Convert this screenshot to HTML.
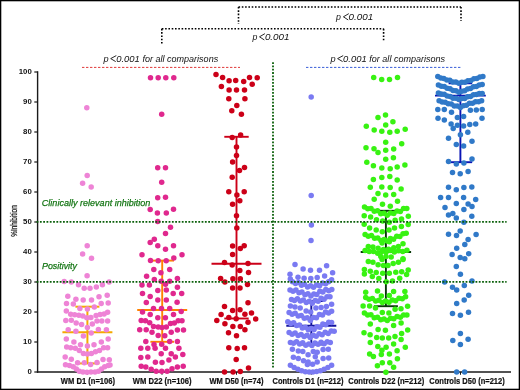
<!DOCTYPE html>
<html><head><meta charset="utf-8"><style>
html,body{margin:0;padding:0;background:#fff;}
svg{display:block;will-change:transform;}
text{font-family:"Liberation Sans",sans-serif;fill:#111;}
.it{font-style:italic;}
.bd{font-weight:bold;}
.xl{stroke:#111;stroke-width:0.2;}
</style></head><body>
<svg width="520" height="390" viewBox="0 0 520 390">
<rect x="0" y="0" width="520" height="390" fill="none" stroke="#000" stroke-width="2.6"/>
<line x1="238.5" y1="7" x2="461" y2="7" stroke="#000" stroke-width="1.6" stroke-dasharray="1.6 1.7"/>
<line x1="238.5" y1="7" x2="238.5" y2="24" stroke="#000" stroke-width="1.6" stroke-dasharray="1.6 1.7"/>
<line x1="461" y1="7" x2="461" y2="21" stroke="#000" stroke-width="1.6" stroke-dasharray="1.6 1.7"/>
<line x1="161.8" y1="28.8" x2="383.6" y2="28.8" stroke="#000" stroke-width="1.6" stroke-dasharray="1.6 1.7"/>
<line x1="161.8" y1="28.8" x2="161.8" y2="44" stroke="#000" stroke-width="1.6" stroke-dasharray="1.6 1.7"/>
<line x1="383.6" y1="28.8" x2="383.6" y2="41" stroke="#000" stroke-width="1.6" stroke-dasharray="1.6 1.7"/>
<text x="336.0" y="19.5" class="it" font-size="8.8">p</text>
<path d="M348.80 13.65 L343.40 16.80 L348.20 19.95" fill="none" stroke="#1e1e1e" stroke-width="0.95"/>
<text x="348.6" y="19.5" class="it" font-size="8.6" textLength="24.6" lengthAdjust="spacingAndGlyphs">0.001</text>
<text x="252.4" y="39.5" class="it" font-size="8.8">p</text>
<path d="M264.90 33.65 L259.50 36.80 L264.30 39.95" fill="none" stroke="#1e1e1e" stroke-width="0.95"/>
<text x="264.9" y="39.5" class="it" font-size="8.6" textLength="24.6" lengthAdjust="spacingAndGlyphs">0.001</text>
<text x="103.5" y="62.2" class="it" font-size="9.2">p</text>
<path d="M116.30 55.60 L110.70 58.60 L115.70 61.60" fill="none" stroke="#1e1e1e" stroke-width="0.95"/>
<text x="116.2" y="62.2" class="it" font-size="8.6" textLength="23.6" lengthAdjust="spacingAndGlyphs">0.001</text>
<text x="142.4" y="62.2" class="it" font-size="8.6" textLength="75.8" lengthAdjust="spacingAndGlyphs">for all comparisons</text>
<text x="330.4" y="62.2" class="it" font-size="9.2">p</text>
<path d="M343.20 55.60 L337.60 58.60 L342.60 61.60" fill="none" stroke="#1e1e1e" stroke-width="0.95"/>
<text x="343.1" y="62.2" class="it" font-size="8.6" textLength="23.6" lengthAdjust="spacingAndGlyphs">0.001</text>
<text x="369.3" y="62.2" class="it" font-size="8.6" textLength="75.8" lengthAdjust="spacingAndGlyphs">for all comparisons</text>
<line x1="82" y1="67.4" x2="240" y2="67.4" stroke="#e03a3a" stroke-width="1" stroke-dasharray="2.4 1.6"/>
<line x1="306" y1="67.4" x2="461.5" y2="67.4" stroke="#3a5fd8" stroke-width="1" stroke-dasharray="2.4 1.6"/>
<line x1="37.6" y1="71.2" x2="37.6" y2="372.7" stroke="#1a1a1a" stroke-width="1.4"/>
<line x1="36.9" y1="372" x2="511" y2="372" stroke="#1a1a1a" stroke-width="1.6"/>
<line x1="34.3" y1="372" x2="37.6" y2="372" stroke="#1a1a1a" stroke-width="1.2"/>
<text x="31.8" y="374.1" class="bd" font-size="7.8" text-anchor="end">0</text>
<line x1="34.3" y1="342" x2="37.6" y2="342" stroke="#1a1a1a" stroke-width="1.2"/>
<text x="31.8" y="344.1" class="bd" font-size="7.8" text-anchor="end">10</text>
<line x1="34.3" y1="312" x2="37.6" y2="312" stroke="#1a1a1a" stroke-width="1.2"/>
<text x="31.8" y="314.1" class="bd" font-size="7.8" text-anchor="end">20</text>
<line x1="34.3" y1="282" x2="37.6" y2="282" stroke="#1a1a1a" stroke-width="1.2"/>
<text x="31.8" y="284.1" class="bd" font-size="7.8" text-anchor="end">30</text>
<line x1="34.3" y1="252" x2="37.6" y2="252" stroke="#1a1a1a" stroke-width="1.2"/>
<text x="31.8" y="254.1" class="bd" font-size="7.8" text-anchor="end">40</text>
<line x1="34.3" y1="222" x2="37.6" y2="222" stroke="#1a1a1a" stroke-width="1.2"/>
<text x="31.8" y="224.1" class="bd" font-size="7.8" text-anchor="end">50</text>
<line x1="34.3" y1="192" x2="37.6" y2="192" stroke="#1a1a1a" stroke-width="1.2"/>
<text x="31.8" y="194.1" class="bd" font-size="7.8" text-anchor="end">60</text>
<line x1="34.3" y1="162" x2="37.6" y2="162" stroke="#1a1a1a" stroke-width="1.2"/>
<text x="31.8" y="164.1" class="bd" font-size="7.8" text-anchor="end">70</text>
<line x1="34.3" y1="132" x2="37.6" y2="132" stroke="#1a1a1a" stroke-width="1.2"/>
<text x="31.8" y="134.1" class="bd" font-size="7.8" text-anchor="end">80</text>
<line x1="34.3" y1="102" x2="37.6" y2="102" stroke="#1a1a1a" stroke-width="1.2"/>
<text x="31.8" y="104.1" class="bd" font-size="7.8" text-anchor="end">90</text>
<line x1="34.3" y1="72" x2="37.6" y2="72" stroke="#1a1a1a" stroke-width="1.2"/>
<text x="31.8" y="74.1" class="bd" font-size="7.8" text-anchor="end">100</text>
<line x1="87.4" y1="372" x2="87.4" y2="374.8" stroke="#1a1a1a" stroke-width="1"/>
<line x1="162" y1="372" x2="162" y2="374.8" stroke="#1a1a1a" stroke-width="1"/>
<line x1="236.5" y1="372" x2="236.5" y2="374.8" stroke="#1a1a1a" stroke-width="1"/>
<line x1="311.2" y1="372" x2="311.2" y2="374.8" stroke="#1a1a1a" stroke-width="1"/>
<line x1="386.2" y1="372" x2="386.2" y2="374.8" stroke="#1a1a1a" stroke-width="1"/>
<line x1="460.5" y1="372" x2="460.5" y2="374.8" stroke="#1a1a1a" stroke-width="1"/>
<text transform="translate(16.9,221) rotate(-90)" font-size="9.4" text-anchor="middle" textLength="31.4" lengthAdjust="spacingAndGlyphs" style="stroke:#111;stroke-width:0.25">%Inhibition</text>
<text x="60.8" y="384.0" class="bd xl" font-size="8.2" textLength="54.3" lengthAdjust="spacingAndGlyphs">WM D1 (n=106)</text>
<text x="132.7" y="384.0" class="bd xl" font-size="8.2" textLength="58.8" lengthAdjust="spacingAndGlyphs">WM D22 (n=106)</text>
<text x="209.5" y="384.0" class="bd xl" font-size="8.2" textLength="53.9" lengthAdjust="spacingAndGlyphs">WM D50 (n=74)</text>
<text x="272.5" y="384.0" class="bd xl" font-size="8.2" textLength="70.9" lengthAdjust="spacingAndGlyphs">Controls D1 (n=212)</text>
<text x="348.2" y="384.0" class="bd xl" font-size="8.2" textLength="76" lengthAdjust="spacingAndGlyphs">Controls D22 (n=212)</text>
<text x="429.3" y="384.0" class="bd xl" font-size="8.2" textLength="75.4" lengthAdjust="spacingAndGlyphs">Controls D50 (n=212)</text>
<g stroke="#f5a800" stroke-width="2" fill="none">
<line x1="87.4" y1="306.7" x2="87.4" y2="363.4"/>
<line x1="75.4" y1="306.7" x2="99.4" y2="306.7"/>
<line x1="75.4" y1="363.4" x2="99.4" y2="363.4"/>
<line x1="62.400000000000006" y1="332.2" x2="112.4" y2="332.2"/>
</g>
<g stroke="#ff8200" stroke-width="1.9" fill="none">
<line x1="162.2" y1="260.6" x2="162.2" y2="341.8"/>
<line x1="150.39999999999998" y1="260.6" x2="174.0" y2="260.6"/>
<line x1="150.39999999999998" y1="341.8" x2="174.0" y2="341.8"/>
<line x1="137.2" y1="310" x2="187.2" y2="310"/>
</g>
<g stroke="#cc0018" stroke-width="1.9" fill="none">
<line x1="236.5" y1="136.8" x2="236.5" y2="318.5"/>
<line x1="224.3" y1="136.8" x2="248.7" y2="136.8"/>
<line x1="224.3" y1="318.5" x2="248.7" y2="318.5"/>
<line x1="211.5" y1="263.8" x2="261.5" y2="263.8"/>
</g>
<g stroke="#12129c" stroke-width="1.9" fill="none">
<line x1="311.3" y1="301" x2="311.3" y2="344.5"/>
<line x1="299.3" y1="301" x2="323.3" y2="301"/>
<line x1="299.3" y1="344.5" x2="323.3" y2="344.5"/>
<line x1="286.3" y1="325.7" x2="336.3" y2="325.7"/>
</g>
<g stroke="#0a3a0a" stroke-width="1.9" fill="none">
<line x1="385.9" y1="210.8" x2="385.9" y2="306.2"/>
<line x1="373.9" y1="210.8" x2="397.9" y2="210.8"/>
<line x1="373.9" y1="306.2" x2="397.9" y2="306.2"/>
<line x1="360.7" y1="252" x2="411.09999999999997" y2="252"/>
</g>
<g stroke="#0a14b4" stroke-width="1.9" fill="none">
<line x1="460.4" y1="83.3" x2="460.4" y2="162.2"/>
<line x1="448.59999999999997" y1="83.3" x2="472.2" y2="83.3"/>
<line x1="448.59999999999997" y1="162.2" x2="472.2" y2="162.2"/>
<line x1="435.0" y1="95.6" x2="485.79999999999995" y2="95.6"/>
</g>
<g fill="#ee84d6">
<circle cx="86.8" cy="107.8" r="2.75"/>
<circle cx="87.2" cy="175.5" r="2.75"/>
<circle cx="82.6" cy="183.2" r="2.75"/>
<circle cx="91.2" cy="187.1" r="2.75"/>
<circle cx="87.2" cy="245.7" r="2.75"/>
<circle cx="82.6" cy="254" r="2.75"/>
<circle cx="91.5" cy="258.3" r="2.75"/>
<circle cx="87.1" cy="275.8" r="2.75"/>
<circle cx="64.2" cy="281.5" r="2.75"/>
<circle cx="71.3" cy="281.9" r="2.75"/>
<circle cx="78.5" cy="284.7" r="2.75"/>
<circle cx="84.2" cy="288.2" r="2.75"/>
<circle cx="90" cy="288.2" r="2.75"/>
<circle cx="96.3" cy="286.9" r="2.75"/>
<circle cx="102.4" cy="284.7" r="2.75"/>
<circle cx="109.1" cy="281.9" r="2.75"/>
<circle cx="67.8" cy="296.3" r="2.75"/>
<circle cx="75.9" cy="299.2" r="2.75"/>
<circle cx="83.2" cy="300.1" r="2.75"/>
<circle cx="91.5" cy="300.1" r="2.75"/>
<circle cx="99" cy="296.7" r="2.75"/>
<circle cx="107.2" cy="295.3" r="2.75"/>
<circle cx="66.5" cy="303.6" r="2.75"/>
<circle cx="73.3" cy="304" r="2.75"/>
<circle cx="101.2" cy="303.6" r="2.75"/>
<circle cx="108.2" cy="303" r="2.75"/>
<circle cx="79.9" cy="308.5" r="2.75"/>
<circle cx="87.4" cy="309" r="2.75"/>
<circle cx="94.3" cy="307.1" r="2.75"/>
<circle cx="66.3" cy="311" r="2.75"/>
<circle cx="107.6" cy="312.2" r="2.75"/>
<circle cx="70.7" cy="314.2" r="2.75"/>
<circle cx="74.7" cy="314.8" r="2.75"/>
<circle cx="78.8" cy="315.2" r="2.75"/>
<circle cx="82.8" cy="316" r="2.75"/>
<circle cx="86.8" cy="317.7" r="2.75"/>
<circle cx="90.9" cy="317.5" r="2.75"/>
<circle cx="96.1" cy="315.4" r="2.75"/>
<circle cx="100.1" cy="314.5" r="2.75"/>
<circle cx="104.1" cy="314" r="2.75"/>
<circle cx="65.8" cy="320.6" r="2.75"/>
<circle cx="71.3" cy="320.2" r="2.75"/>
<circle cx="76.2" cy="322.9" r="2.75"/>
<circle cx="81.6" cy="324.6" r="2.75"/>
<circle cx="87.4" cy="327.5" r="2.75"/>
<circle cx="92.3" cy="324" r="2.75"/>
<circle cx="97" cy="321.1" r="2.75"/>
<circle cx="101.8" cy="321.1" r="2.75"/>
<circle cx="107.6" cy="321.1" r="2.75"/>
<circle cx="68.2" cy="329.8" r="2.75"/>
<circle cx="75.9" cy="331.3" r="2.75"/>
<circle cx="98.4" cy="329.6" r="2.75"/>
<circle cx="106.4" cy="329.8" r="2.75"/>
<circle cx="83.4" cy="335.9" r="2.75"/>
<circle cx="91.2" cy="333" r="2.75"/>
<circle cx="66.3" cy="339" r="2.75"/>
<circle cx="73.9" cy="342.1" r="2.75"/>
<circle cx="80.5" cy="344.8" r="2.75"/>
<circle cx="87.4" cy="346" r="2.75"/>
<circle cx="94" cy="344.8" r="2.75"/>
<circle cx="101.3" cy="341.9" r="2.75"/>
<circle cx="108.2" cy="339" r="2.75"/>
<circle cx="66.7" cy="347.1" r="2.75"/>
<circle cx="70.7" cy="347.7" r="2.75"/>
<circle cx="75.3" cy="348.3" r="2.75"/>
<circle cx="79.3" cy="350.6" r="2.75"/>
<circle cx="83.4" cy="353.5" r="2.75"/>
<circle cx="87.4" cy="354" r="2.75"/>
<circle cx="91.4" cy="353.5" r="2.75"/>
<circle cx="95.5" cy="351.7" r="2.75"/>
<circle cx="99.5" cy="350.6" r="2.75"/>
<circle cx="103.6" cy="347.7" r="2.75"/>
<circle cx="107.6" cy="347.7" r="2.75"/>
<circle cx="65.2" cy="356.9" r="2.75"/>
<circle cx="71.3" cy="359.2" r="2.75"/>
<circle cx="77.6" cy="362.7" r="2.75"/>
<circle cx="84.3" cy="362.7" r="2.75"/>
<circle cx="90.6" cy="364.4" r="2.75"/>
<circle cx="97" cy="362.4" r="2.75"/>
<circle cx="103" cy="359.5" r="2.75"/>
<circle cx="109.3" cy="359.8" r="2.75"/>
<circle cx="65.5" cy="364.8" r="2.75"/>
<circle cx="69.5" cy="365.5" r="2.75"/>
<circle cx="73.2" cy="366.8" r="2.75"/>
<circle cx="76.3" cy="369" r="2.75"/>
<circle cx="79.3" cy="371.2" r="2.75"/>
<circle cx="83" cy="372" r="2.75"/>
<circle cx="87" cy="372.2" r="2.75"/>
<circle cx="91" cy="372" r="2.75"/>
<circle cx="95" cy="372" r="2.75"/>
<circle cx="98.5" cy="371.2" r="2.75"/>
<circle cx="101.5" cy="369" r="2.75"/>
<circle cx="104.7" cy="366.8" r="2.75"/>
<circle cx="108.2" cy="365.5" r="2.75"/>
<circle cx="110" cy="365" r="2.75"/>
</g>
<g fill="#e0288e">
<circle cx="150.5" cy="77.7" r="2.75"/>
<circle cx="158.2" cy="77.7" r="2.75"/>
<circle cx="165.8" cy="77.7" r="2.75"/>
<circle cx="173.8" cy="77.7" r="2.75"/>
<circle cx="161.7" cy="114.2" r="2.75"/>
<circle cx="157.7" cy="167.7" r="2.75"/>
<circle cx="165.5" cy="167.7" r="2.75"/>
<circle cx="161.7" cy="182.3" r="2.75"/>
<circle cx="157.7" cy="197.8" r="2.75"/>
<circle cx="165.5" cy="197.3" r="2.75"/>
<circle cx="150.2" cy="209.6" r="2.75"/>
<circle cx="157.4" cy="213" r="2.75"/>
<circle cx="166.3" cy="213" r="2.75"/>
<circle cx="173.5" cy="209.3" r="2.75"/>
<circle cx="157.7" cy="221.6" r="2.75"/>
<circle cx="170.5" cy="227.3" r="2.75"/>
<circle cx="165.5" cy="233.5" r="2.75"/>
<circle cx="154.3" cy="239.3" r="2.75"/>
<circle cx="150.2" cy="242.4" r="2.75"/>
<circle cx="157.8" cy="245.8" r="2.75"/>
<circle cx="173.5" cy="245.8" r="2.75"/>
<circle cx="165.5" cy="249.3" r="2.75"/>
<circle cx="142" cy="254.7" r="2.75"/>
<circle cx="182" cy="254.7" r="2.75"/>
<circle cx="173.8" cy="258.1" r="2.75"/>
<circle cx="150.5" cy="260.4" r="2.75"/>
<circle cx="158.2" cy="260.8" r="2.75"/>
<circle cx="166.2" cy="260.8" r="2.75"/>
<circle cx="153.8" cy="269.6" r="2.75"/>
<circle cx="169.7" cy="269.6" r="2.75"/>
<circle cx="160.9" cy="272.7" r="2.75"/>
<circle cx="146.6" cy="276.2" r="2.75"/>
<circle cx="177.4" cy="278.5" r="2.75"/>
<circle cx="154.3" cy="279.6" r="2.75"/>
<circle cx="161.2" cy="281.2" r="2.75"/>
<circle cx="169.7" cy="281.2" r="2.75"/>
<circle cx="142" cy="285" r="2.75"/>
<circle cx="149.4" cy="285" r="2.75"/>
<circle cx="165.5" cy="284.2" r="2.75"/>
<circle cx="177.4" cy="287.3" r="2.75"/>
<circle cx="157.8" cy="290.4" r="2.75"/>
<circle cx="166.3" cy="290.1" r="2.75"/>
<circle cx="142.5" cy="293.4" r="2.75"/>
<circle cx="173.2" cy="293.4" r="2.75"/>
<circle cx="181.7" cy="293.4" r="2.75"/>
<circle cx="150.2" cy="296.5" r="2.75"/>
<circle cx="157.8" cy="300" r="2.75"/>
<circle cx="166.3" cy="300" r="2.75"/>
<circle cx="146.3" cy="302.6" r="2.75"/>
<circle cx="177.1" cy="302.3" r="2.75"/>
<circle cx="153.5" cy="308.5" r="2.75"/>
<circle cx="161.5" cy="308.5" r="2.75"/>
<circle cx="169.7" cy="308.5" r="2.75"/>
<circle cx="142.5" cy="312" r="2.75"/>
<circle cx="181.2" cy="311.5" r="2.75"/>
<circle cx="150.2" cy="314.6" r="2.75"/>
<circle cx="173.5" cy="314.6" r="2.75"/>
<circle cx="157.8" cy="317.7" r="2.75"/>
<circle cx="165.4" cy="317.7" r="2.75"/>
<circle cx="141.2" cy="320.5" r="2.75"/>
<circle cx="145.4" cy="320.8" r="2.75"/>
<circle cx="149.7" cy="322.8" r="2.75"/>
<circle cx="153.5" cy="326.5" r="2.75"/>
<circle cx="158.2" cy="326.9" r="2.75"/>
<circle cx="162" cy="327.4" r="2.75"/>
<circle cx="166.3" cy="326.9" r="2.75"/>
<circle cx="170.5" cy="323.5" r="2.75"/>
<circle cx="174.3" cy="323.1" r="2.75"/>
<circle cx="178.2" cy="320.8" r="2.75"/>
<circle cx="182" cy="320.8" r="2.75"/>
<circle cx="139.7" cy="329.7" r="2.75"/>
<circle cx="146.2" cy="329.7" r="2.75"/>
<circle cx="152" cy="332.3" r="2.75"/>
<circle cx="158.2" cy="335.5" r="2.75"/>
<circle cx="164.8" cy="335.8" r="2.75"/>
<circle cx="171.2" cy="332.3" r="2.75"/>
<circle cx="177.4" cy="330" r="2.75"/>
<circle cx="183.5" cy="330" r="2.75"/>
<circle cx="145.8" cy="341.5" r="2.75"/>
<circle cx="154" cy="344.6" r="2.75"/>
<circle cx="161.7" cy="344.2" r="2.75"/>
<circle cx="169.7" cy="341.5" r="2.75"/>
<circle cx="177.4" cy="341.5" r="2.75"/>
<circle cx="140.8" cy="348.2" r="2.75"/>
<circle cx="147.8" cy="348.2" r="2.75"/>
<circle cx="155.1" cy="348.2" r="2.75"/>
<circle cx="165.5" cy="348.2" r="2.75"/>
<circle cx="178.9" cy="348.2" r="2.75"/>
<circle cx="140.8" cy="357.4" r="2.75"/>
<circle cx="147.8" cy="356.9" r="2.75"/>
<circle cx="161.2" cy="353.8" r="2.75"/>
<circle cx="171.2" cy="353.8" r="2.75"/>
<circle cx="175.4" cy="356.9" r="2.75"/>
<circle cx="182.8" cy="354.6" r="2.75"/>
<circle cx="155.4" cy="362.3" r="2.75"/>
<circle cx="162" cy="362.6" r="2.75"/>
<circle cx="168.9" cy="360" r="2.75"/>
<circle cx="141.2" cy="366.2" r="2.75"/>
<circle cx="145.8" cy="366.9" r="2.75"/>
<circle cx="151.2" cy="369.2" r="2.75"/>
<circle cx="156.2" cy="371.2" r="2.75"/>
<circle cx="161.7" cy="371.2" r="2.75"/>
<circle cx="167.1" cy="371.2" r="2.75"/>
<circle cx="172" cy="368.8" r="2.75"/>
<circle cx="177.4" cy="366.9" r="2.75"/>
<circle cx="183.2" cy="366.2" r="2.75"/>
</g>
<g fill="#cc0018">
<circle cx="216" cy="74.6" r="2.75"/>
<circle cx="222.6" cy="77.4" r="2.75"/>
<circle cx="229.1" cy="80.8" r="2.75"/>
<circle cx="235.7" cy="80.5" r="2.75"/>
<circle cx="243.7" cy="81.5" r="2.75"/>
<circle cx="249.5" cy="77.4" r="2.75"/>
<circle cx="257.2" cy="77.7" r="2.75"/>
<circle cx="252.2" cy="84.2" r="2.75"/>
<circle cx="221.4" cy="86.6" r="2.75"/>
<circle cx="229.1" cy="90" r="2.75"/>
<circle cx="236.5" cy="90" r="2.75"/>
<circle cx="244.5" cy="90" r="2.75"/>
<circle cx="228.8" cy="98.8" r="2.75"/>
<circle cx="244.9" cy="98.8" r="2.75"/>
<circle cx="236.8" cy="105.4" r="2.75"/>
<circle cx="231.8" cy="110.8" r="2.75"/>
<circle cx="241.4" cy="114.2" r="2.75"/>
<circle cx="232.2" cy="137.6" r="2.75"/>
<circle cx="240.6" cy="135" r="2.75"/>
<circle cx="236.5" cy="147" r="2.75"/>
<circle cx="236.5" cy="155.5" r="2.75"/>
<circle cx="232.6" cy="161.9" r="2.75"/>
<circle cx="244.5" cy="167.6" r="2.75"/>
<circle cx="239.5" cy="170.4" r="2.75"/>
<circle cx="232.2" cy="177.3" r="2.75"/>
<circle cx="228.8" cy="191.8" r="2.75"/>
<circle cx="236.9" cy="194.9" r="2.75"/>
<circle cx="244.2" cy="191.8" r="2.75"/>
<circle cx="239.8" cy="200.8" r="2.75"/>
<circle cx="232.6" cy="204.2" r="2.75"/>
<circle cx="236.5" cy="215.8" r="2.75"/>
<circle cx="236.8" cy="228" r="2.75"/>
<circle cx="232.6" cy="246.1" r="2.75"/>
<circle cx="244.2" cy="245.8" r="2.75"/>
<circle cx="240.3" cy="248.5" r="2.75"/>
<circle cx="232.6" cy="254.5" r="2.75"/>
<circle cx="224.5" cy="262.4" r="2.75"/>
<circle cx="232.2" cy="265" r="2.75"/>
<circle cx="248" cy="263.5" r="2.75"/>
<circle cx="239.8" cy="270.4" r="2.75"/>
<circle cx="248.5" cy="272.4" r="2.75"/>
<circle cx="220.6" cy="278.5" r="2.75"/>
<circle cx="224.9" cy="281.9" r="2.75"/>
<circle cx="232.9" cy="278.8" r="2.75"/>
<circle cx="240.3" cy="278.8" r="2.75"/>
<circle cx="247.5" cy="284.5" r="2.75"/>
<circle cx="232.6" cy="288.1" r="2.75"/>
<circle cx="240" cy="288.1" r="2.75"/>
<circle cx="248" cy="302.8" r="2.75"/>
<circle cx="224.5" cy="306.6" r="2.75"/>
<circle cx="232.6" cy="310.5" r="2.75"/>
<circle cx="240" cy="309.7" r="2.75"/>
<circle cx="221.1" cy="314.6" r="2.75"/>
<circle cx="228.8" cy="317.4" r="2.75"/>
<circle cx="236.2" cy="318.8" r="2.75"/>
<circle cx="244.9" cy="314.3" r="2.75"/>
<circle cx="251.5" cy="313.1" r="2.75"/>
<circle cx="216.8" cy="320.5" r="2.75"/>
<circle cx="224.9" cy="323.8" r="2.75"/>
<circle cx="248" cy="322.3" r="2.75"/>
<circle cx="255.7" cy="318.9" r="2.75"/>
<circle cx="232.9" cy="326.6" r="2.75"/>
<circle cx="240.3" cy="326.6" r="2.75"/>
<circle cx="244.9" cy="329.7" r="2.75"/>
<circle cx="228.5" cy="332.8" r="2.75"/>
<circle cx="236.5" cy="335.8" r="2.75"/>
<circle cx="228.8" cy="347.7" r="2.75"/>
<circle cx="237.2" cy="348.5" r="2.75"/>
<circle cx="244.5" cy="347.7" r="2.75"/>
<circle cx="236.2" cy="359.6" r="2.75"/>
<circle cx="248.5" cy="368.1" r="2.75"/>
<circle cx="224.5" cy="371.9" r="2.75"/>
<circle cx="233.1" cy="371.9" r="2.75"/>
<circle cx="240.3" cy="371.6" r="2.75"/>
</g>
<g fill="#7a7af2">
<circle cx="311.2" cy="97" r="2.75"/>
<circle cx="311.2" cy="195.5" r="2.75"/>
<circle cx="311.4" cy="224.9" r="2.75"/>
<circle cx="311" cy="240.6" r="2.75"/>
<circle cx="295" cy="264.4" r="2.75"/>
<circle cx="326.6" cy="265.8" r="2.75"/>
<circle cx="303.1" cy="269.1" r="2.75"/>
<circle cx="310.5" cy="270.3" r="2.75"/>
<circle cx="319.5" cy="270.2" r="2.75"/>
<circle cx="290" cy="274.3" r="2.75"/>
<circle cx="332.6" cy="272.7" r="2.75"/>
<circle cx="298" cy="277.3" r="2.75"/>
<circle cx="304.1" cy="278.3" r="2.75"/>
<circle cx="310.8" cy="278.6" r="2.75"/>
<circle cx="317.2" cy="277.6" r="2.75"/>
<circle cx="324.6" cy="276.1" r="2.75"/>
<circle cx="290.3" cy="279" r="2.75"/>
<circle cx="331.6" cy="279.8" r="2.75"/>
<circle cx="292.5" cy="281.8" r="2.75"/>
<circle cx="295.51" cy="283.45" r="2.75"/>
<circle cx="298.52" cy="282.4" r="2.75"/>
<circle cx="301.52" cy="285.17" r="2.75"/>
<circle cx="304.53" cy="284.34" r="2.75"/>
<circle cx="307.54" cy="286.98" r="2.75"/>
<circle cx="310.55" cy="285.63" r="2.75"/>
<circle cx="313.56" cy="287.24" r="2.75"/>
<circle cx="316.57" cy="284.97" r="2.75"/>
<circle cx="319.58" cy="285.75" r="2.75"/>
<circle cx="322.58" cy="283.01" r="2.75"/>
<circle cx="325.59" cy="283.83" r="2.75"/>
<circle cx="328.6" cy="281.8" r="2.75"/>
<circle cx="290.0" cy="289.9" r="2.75"/>
<circle cx="292.99" cy="291.28" r="2.75"/>
<circle cx="295.97" cy="290.07" r="2.75"/>
<circle cx="298.96" cy="292.72" r="2.75"/>
<circle cx="301.94" cy="291.89" r="2.75"/>
<circle cx="304.93" cy="294.77" r="2.75"/>
<circle cx="307.91" cy="293.69" r="2.75"/>
<circle cx="310.9" cy="295.94" r="2.75"/>
<circle cx="313.89" cy="293.9" r="2.75"/>
<circle cx="316.87" cy="294.62" r="2.75"/>
<circle cx="319.86" cy="291.18" r="2.75"/>
<circle cx="322.84" cy="292.07" r="2.75"/>
<circle cx="325.83" cy="289.4" r="2.75"/>
<circle cx="328.81" cy="290.74" r="2.75"/>
<circle cx="331.8" cy="289.5" r="2.75"/>
<circle cx="291.5" cy="299.4" r="2.75"/>
<circle cx="294.46" cy="300.4" r="2.75"/>
<circle cx="297.42" cy="298.7" r="2.75"/>
<circle cx="300.38" cy="301.08" r="2.75"/>
<circle cx="303.35" cy="299.94" r="2.75"/>
<circle cx="306.31" cy="302.57" r="2.75"/>
<circle cx="309.27" cy="301.26" r="2.75"/>
<circle cx="312.23" cy="303.22" r="2.75"/>
<circle cx="315.19" cy="300.4" r="2.75"/>
<circle cx="318.15" cy="301.16" r="2.75"/>
<circle cx="321.12" cy="298.3" r="2.75"/>
<circle cx="324.08" cy="299.2" r="2.75"/>
<circle cx="327.04" cy="296.65" r="2.75"/>
<circle cx="330.0" cy="296.8" r="2.75"/>
<circle cx="290.4" cy="306.1" r="2.75"/>
<circle cx="295" cy="307" r="2.75"/>
<circle cx="300.2" cy="308.1" r="2.75"/>
<circle cx="306.1" cy="311" r="2.75"/>
<circle cx="310.7" cy="312" r="2.75"/>
<circle cx="315.9" cy="308.1" r="2.75"/>
<circle cx="321.1" cy="307.4" r="2.75"/>
<circle cx="326.4" cy="306.5" r="2.75"/>
<circle cx="331.6" cy="304.2" r="2.75"/>
<circle cx="289.1" cy="312.6" r="2.75"/>
<circle cx="292.14" cy="314.22" r="2.75"/>
<circle cx="295.17" cy="313.16" r="2.75"/>
<circle cx="298.21" cy="316.07" r="2.75"/>
<circle cx="301.24" cy="315.39" r="2.75"/>
<circle cx="304.28" cy="318.34" r="2.75"/>
<circle cx="307.31" cy="317.66" r="2.75"/>
<circle cx="310.35" cy="320.57" r="2.75"/>
<circle cx="313.39" cy="317.56" r="2.75"/>
<circle cx="316.42" cy="317.84" r="2.75"/>
<circle cx="319.46" cy="314.52" r="2.75"/>
<circle cx="322.49" cy="314.97" r="2.75"/>
<circle cx="325.53" cy="312.03" r="2.75"/>
<circle cx="328.56" cy="312.96" r="2.75"/>
<circle cx="331.6" cy="311.3" r="2.75"/>
<circle cx="287.8" cy="321.8" r="2.75"/>
<circle cx="290.72" cy="323.53" r="2.75"/>
<circle cx="293.64" cy="322.68" r="2.75"/>
<circle cx="296.56" cy="325.6" r="2.75"/>
<circle cx="299.48" cy="324.95" r="2.75"/>
<circle cx="302.4" cy="327.92" r="2.75"/>
<circle cx="305.32" cy="327.15" r="2.75"/>
<circle cx="308.24" cy="329.79" r="2.75"/>
<circle cx="311.16" cy="328.57" r="2.75"/>
<circle cx="314.08" cy="329.51" r="2.75"/>
<circle cx="317.0" cy="326.86" r="2.75"/>
<circle cx="319.92" cy="327.24" r="2.75"/>
<circle cx="322.84" cy="323.98" r="2.75"/>
<circle cx="325.76" cy="324.82" r="2.75"/>
<circle cx="328.68" cy="322.31" r="2.75"/>
<circle cx="331.6" cy="322.5" r="2.75"/>
<circle cx="289.1" cy="332.6" r="2.75"/>
<circle cx="292.11" cy="334.16" r="2.75"/>
<circle cx="295.11" cy="333.03" r="2.75"/>
<circle cx="298.12" cy="335.58" r="2.75"/>
<circle cx="301.13" cy="334.42" r="2.75"/>
<circle cx="304.13" cy="336.62" r="2.75"/>
<circle cx="307.14" cy="335.28" r="2.75"/>
<circle cx="310.15" cy="337.6" r="2.75"/>
<circle cx="313.15" cy="335.3" r="2.75"/>
<circle cx="316.16" cy="336.36" r="2.75"/>
<circle cx="319.17" cy="333.81" r="2.75"/>
<circle cx="322.17" cy="334.86" r="2.75"/>
<circle cx="325.18" cy="332.32" r="2.75"/>
<circle cx="328.19" cy="333.4" r="2.75"/>
<circle cx="331.19" cy="331.0" r="2.75"/>
<circle cx="334.2" cy="331.3" r="2.75"/>
<circle cx="290.4" cy="342.4" r="2.75"/>
<circle cx="293.47" cy="343.3" r="2.75"/>
<circle cx="296.54" cy="341.71" r="2.75"/>
<circle cx="299.61" cy="343.92" r="2.75"/>
<circle cx="302.68" cy="342.81" r="2.75"/>
<circle cx="305.75" cy="345.33" r="2.75"/>
<circle cx="308.82" cy="343.88" r="2.75"/>
<circle cx="311.88" cy="345.6" r="2.75"/>
<circle cx="314.95" cy="343.04" r="2.75"/>
<circle cx="318.02" cy="344.36" r="2.75"/>
<circle cx="321.09" cy="342.2" r="2.75"/>
<circle cx="324.16" cy="343.83" r="2.75"/>
<circle cx="327.23" cy="341.81" r="2.75"/>
<circle cx="330.3" cy="342.4" r="2.75"/>
<circle cx="292.4" cy="349.3" r="2.75"/>
<circle cx="298.3" cy="350.9" r="2.75"/>
<circle cx="302.8" cy="351.6" r="2.75"/>
<circle cx="308.1" cy="354.8" r="2.75"/>
<circle cx="313.3" cy="351.6" r="2.75"/>
<circle cx="317.2" cy="352.2" r="2.75"/>
<circle cx="323.1" cy="349.6" r="2.75"/>
<circle cx="328.3" cy="349.3" r="2.75"/>
<circle cx="315.3" cy="356.8" r="2.75"/>
<circle cx="293.4" cy="357.2" r="2.75"/>
<circle cx="298.3" cy="358.5" r="2.75"/>
<circle cx="303.5" cy="360.7" r="2.75"/>
<circle cx="308.1" cy="362" r="2.75"/>
<circle cx="312.6" cy="364.2" r="2.75"/>
<circle cx="317.2" cy="362" r="2.75"/>
<circle cx="323.1" cy="358.5" r="2.75"/>
<circle cx="328.7" cy="358.1" r="2.75"/>
<circle cx="307.4" cy="364.6" r="2.75"/>
<circle cx="290.4" cy="365.3" r="2.75"/>
<circle cx="294.15" cy="367.42" r="2.75"/>
<circle cx="297.89" cy="369.35" r="2.75"/>
<circle cx="301.64" cy="370.85" r="2.75"/>
<circle cx="305.38" cy="371.77" r="2.75"/>
<circle cx="309.13" cy="372.01" r="2.75"/>
<circle cx="312.87" cy="371.97" r="2.75"/>
<circle cx="316.62" cy="371.62" r="2.75"/>
<circle cx="320.36" cy="370.68" r="2.75"/>
<circle cx="324.11" cy="369.17" r="2.75"/>
<circle cx="327.85" cy="367.42" r="2.75"/>
<circle cx="331.6" cy="365.3" r="2.75"/>
</g>
<g fill="#38f212">
<circle cx="373.7" cy="77.4" r="2.75"/>
<circle cx="381.7" cy="79.5" r="2.75"/>
<circle cx="389.5" cy="79.5" r="2.75"/>
<circle cx="397.5" cy="77.4" r="2.75"/>
<circle cx="378" cy="117.4" r="2.75"/>
<circle cx="385.5" cy="115.1" r="2.75"/>
<circle cx="392.9" cy="121.8" r="2.75"/>
<circle cx="385.7" cy="124.9" r="2.75"/>
<circle cx="366.3" cy="126.3" r="2.75"/>
<circle cx="374.2" cy="130" r="2.75"/>
<circle cx="381.8" cy="131.2" r="2.75"/>
<circle cx="389.8" cy="132.3" r="2.75"/>
<circle cx="397.2" cy="131.2" r="2.75"/>
<circle cx="405.2" cy="129.2" r="2.75"/>
<circle cx="385.7" cy="142.3" r="2.75"/>
<circle cx="401.7" cy="143.8" r="2.75"/>
<circle cx="366" cy="147.7" r="2.75"/>
<circle cx="374" cy="148.8" r="2.75"/>
<circle cx="385.7" cy="150.3" r="2.75"/>
<circle cx="393.7" cy="148.9" r="2.75"/>
<circle cx="378" cy="152.6" r="2.75"/>
<circle cx="385.7" cy="159.2" r="2.75"/>
<circle cx="393.4" cy="157.7" r="2.75"/>
<circle cx="366.8" cy="162.3" r="2.75"/>
<circle cx="373.4" cy="165.8" r="2.75"/>
<circle cx="381.8" cy="168" r="2.75"/>
<circle cx="390.2" cy="168.8" r="2.75"/>
<circle cx="397.2" cy="166.9" r="2.75"/>
<circle cx="404.9" cy="165.1" r="2.75"/>
<circle cx="373.4" cy="179.5" r="2.75"/>
<circle cx="381.8" cy="177.4" r="2.75"/>
<circle cx="389.8" cy="176.5" r="2.75"/>
<circle cx="397.2" cy="180" r="2.75"/>
<circle cx="370.3" cy="187.2" r="2.75"/>
<circle cx="381.8" cy="186.9" r="2.75"/>
<circle cx="390.2" cy="187.4" r="2.75"/>
<circle cx="401.1" cy="188.9" r="2.75"/>
<circle cx="378" cy="193.4" r="2.75"/>
<circle cx="385.7" cy="195.1" r="2.75"/>
<circle cx="393.7" cy="194.6" r="2.75"/>
<circle cx="374.2" cy="199.2" r="2.75"/>
<circle cx="397.5" cy="201.2" r="2.75"/>
<circle cx="382.5" cy="204.3" r="2.75"/>
<circle cx="390.3" cy="206.2" r="2.75"/>
<circle cx="364.5" cy="206.9" r="2.75"/>
<circle cx="367.75" cy="208.83" r="2.75"/>
<circle cx="371.01" cy="208.45" r="2.75"/>
<circle cx="374.26" cy="211.28" r="2.75"/>
<circle cx="377.52" cy="210.74" r="2.75"/>
<circle cx="380.77" cy="213.67" r="2.75"/>
<circle cx="384.02" cy="213.23" r="2.75"/>
<circle cx="387.28" cy="215.3" r="2.75"/>
<circle cx="390.53" cy="213.01" r="2.75"/>
<circle cx="393.78" cy="213.56" r="2.75"/>
<circle cx="397.04" cy="210.9" r="2.75"/>
<circle cx="400.29" cy="211.4" r="2.75"/>
<circle cx="403.55" cy="208.46" r="2.75"/>
<circle cx="406.8" cy="208.5" r="2.75"/>
<circle cx="364.2" cy="215.8" r="2.75"/>
<circle cx="370.6" cy="216.9" r="2.75"/>
<circle cx="376.5" cy="219.8" r="2.75"/>
<circle cx="382.7" cy="220.9" r="2.75"/>
<circle cx="389.3" cy="222.2" r="2.75"/>
<circle cx="395.1" cy="220.2" r="2.75"/>
<circle cx="401.5" cy="219" r="2.75"/>
<circle cx="408.3" cy="216.2" r="2.75"/>
<circle cx="364.2" cy="224.2" r="2.75"/>
<circle cx="369.6" cy="228.1" r="2.75"/>
<circle cx="376.2" cy="230" r="2.75"/>
<circle cx="382.3" cy="231.7" r="2.75"/>
<circle cx="389" cy="230" r="2.75"/>
<circle cx="394.5" cy="228.1" r="2.75"/>
<circle cx="401.4" cy="226.5" r="2.75"/>
<circle cx="408.2" cy="224.4" r="2.75"/>
<circle cx="365.1" cy="234.6" r="2.75"/>
<circle cx="368.26" cy="236.19" r="2.75"/>
<circle cx="371.42" cy="235.53" r="2.75"/>
<circle cx="374.58" cy="238.35" r="2.75"/>
<circle cx="377.75" cy="237.91" r="2.75"/>
<circle cx="380.91" cy="240.61" r="2.75"/>
<circle cx="384.07" cy="239.44" r="2.75"/>
<circle cx="387.23" cy="240.99" r="2.75"/>
<circle cx="390.39" cy="238.6" r="2.75"/>
<circle cx="393.55" cy="239.22" r="2.75"/>
<circle cx="396.72" cy="236.29" r="2.75"/>
<circle cx="399.88" cy="236.44" r="2.75"/>
<circle cx="403.04" cy="233.78" r="2.75"/>
<circle cx="406.2" cy="233.3" r="2.75"/>
<circle cx="382.1" cy="243.1" r="2.75"/>
<circle cx="389.3" cy="241.8" r="2.75"/>
<circle cx="403" cy="243.8" r="2.75"/>
<circle cx="368.3" cy="246.4" r="2.75"/>
<circle cx="372.9" cy="247" r="2.75"/>
<circle cx="378.1" cy="248.3" r="2.75"/>
<circle cx="383.4" cy="249.6" r="2.75"/>
<circle cx="388.6" cy="249.2" r="2.75"/>
<circle cx="393.8" cy="247.7" r="2.75"/>
<circle cx="398.4" cy="246.4" r="2.75"/>
<circle cx="365.1" cy="250.6" r="2.75"/>
<circle cx="369.28" cy="251.62" r="2.75"/>
<circle cx="373.46" cy="251.45" r="2.75"/>
<circle cx="377.64" cy="253.36" r="2.75"/>
<circle cx="381.82" cy="251.46" r="2.75"/>
<circle cx="386.0" cy="252.3" r="2.75"/>
<circle cx="390.18" cy="250.42" r="2.75"/>
<circle cx="394.36" cy="252.06" r="2.75"/>
<circle cx="398.54" cy="250.66" r="2.75"/>
<circle cx="402.72" cy="251.56" r="2.75"/>
<circle cx="406.9" cy="250.3" r="2.75"/>
<circle cx="380.8" cy="256.5" r="2.75"/>
<circle cx="386" cy="256.5" r="2.75"/>
<circle cx="391.2" cy="257" r="2.75"/>
<circle cx="403" cy="258.8" r="2.75"/>
<circle cx="382.1" cy="259.6" r="2.75"/>
<circle cx="368.3" cy="261.5" r="2.75"/>
<circle cx="372.9" cy="262.2" r="2.75"/>
<circle cx="378.1" cy="264.8" r="2.75"/>
<circle cx="383.4" cy="265.5" r="2.75"/>
<circle cx="388" cy="265.5" r="2.75"/>
<circle cx="393.2" cy="263.5" r="2.75"/>
<circle cx="398.4" cy="262.2" r="2.75"/>
<circle cx="403" cy="259.6" r="2.75"/>
<circle cx="364.4" cy="269.4" r="2.75"/>
<circle cx="364.4" cy="274" r="2.75"/>
<circle cx="370.3" cy="271.3" r="2.75"/>
<circle cx="376.2" cy="272.6" r="2.75"/>
<circle cx="382.7" cy="273.3" r="2.75"/>
<circle cx="389.3" cy="273.3" r="2.75"/>
<circle cx="395.8" cy="272.3" r="2.75"/>
<circle cx="401.7" cy="271.7" r="2.75"/>
<circle cx="408.2" cy="270" r="2.75"/>
<circle cx="406.6" cy="274.6" r="2.75"/>
<circle cx="372.3" cy="276.6" r="2.75"/>
<circle cx="378.8" cy="278.5" r="2.75"/>
<circle cx="386.2" cy="281.8" r="2.75"/>
<circle cx="392.5" cy="281.1" r="2.75"/>
<circle cx="399.7" cy="278.3" r="2.75"/>
<circle cx="365.7" cy="292.2" r="2.75"/>
<circle cx="377.5" cy="290.9" r="2.75"/>
<circle cx="381.4" cy="296.1" r="2.75"/>
<circle cx="389.3" cy="295.5" r="2.75"/>
<circle cx="393.6" cy="291.5" r="2.75"/>
<circle cx="404.9" cy="291.5" r="2.75"/>
<circle cx="365.7" cy="297.4" r="2.75"/>
<circle cx="369.02" cy="299.14" r="2.75"/>
<circle cx="372.35" cy="298.48" r="2.75"/>
<circle cx="375.68" cy="301.02" r="2.75"/>
<circle cx="379.0" cy="300.36" r="2.75"/>
<circle cx="382.32" cy="302.48" r="2.75"/>
<circle cx="385.65" cy="301.07" r="2.75"/>
<circle cx="388.98" cy="302.22" r="2.75"/>
<circle cx="392.3" cy="299.9" r="2.75"/>
<circle cx="395.62" cy="300.67" r="2.75"/>
<circle cx="398.95" cy="298.26" r="2.75"/>
<circle cx="402.28" cy="298.81" r="2.75"/>
<circle cx="405.6" cy="296.8" r="2.75"/>
<circle cx="363.1" cy="305.9" r="2.75"/>
<circle cx="369.6" cy="305.9" r="2.75"/>
<circle cx="375.5" cy="307.9" r="2.75"/>
<circle cx="395.1" cy="309.2" r="2.75"/>
<circle cx="401" cy="308.8" r="2.75"/>
<circle cx="407.6" cy="306.2" r="2.75"/>
<circle cx="382.3" cy="312.5" r="2.75"/>
<circle cx="388.9" cy="313.1" r="2.75"/>
<circle cx="364.4" cy="313.1" r="2.75"/>
<circle cx="367.67" cy="314.97" r="2.75"/>
<circle cx="370.94" cy="314.64" r="2.75"/>
<circle cx="374.21" cy="317.8" r="2.75"/>
<circle cx="377.48" cy="317.25" r="2.75"/>
<circle cx="380.75" cy="319.81" r="2.75"/>
<circle cx="384.02" cy="319.03" r="2.75"/>
<circle cx="387.28" cy="320.4" r="2.75"/>
<circle cx="390.55" cy="318.21" r="2.75"/>
<circle cx="393.82" cy="318.87" r="2.75"/>
<circle cx="397.09" cy="316.41" r="2.75"/>
<circle cx="400.36" cy="317.21" r="2.75"/>
<circle cx="403.63" cy="314.95" r="2.75"/>
<circle cx="406.9" cy="315.1" r="2.75"/>
<circle cx="370.3" cy="324" r="2.75"/>
<circle cx="393.6" cy="325.4" r="2.75"/>
<circle cx="401.1" cy="323.1" r="2.75"/>
<circle cx="378.1" cy="329.5" r="2.75"/>
<circle cx="385.4" cy="330.2" r="2.75"/>
<circle cx="407.7" cy="330" r="2.75"/>
<circle cx="364" cy="332.7" r="2.75"/>
<circle cx="370.1" cy="334.8" r="2.75"/>
<circle cx="376.7" cy="337.6" r="2.75"/>
<circle cx="382.3" cy="338.1" r="2.75"/>
<circle cx="388.7" cy="338.1" r="2.75"/>
<circle cx="395" cy="336.6" r="2.75"/>
<circle cx="401.6" cy="333.4" r="2.75"/>
<circle cx="401.1" cy="339.5" r="2.75"/>
<circle cx="370.3" cy="342.6" r="2.75"/>
<circle cx="393.6" cy="344" r="2.75"/>
<circle cx="377.8" cy="346.5" r="2.75"/>
<circle cx="386.1" cy="347.2" r="2.75"/>
<circle cx="405.3" cy="347.2" r="2.75"/>
<circle cx="381.9" cy="350.3" r="2.75"/>
<circle cx="397.1" cy="350.7" r="2.75"/>
<circle cx="369.6" cy="353.9" r="2.75"/>
<circle cx="373.4" cy="356.4" r="2.75"/>
<circle cx="381.3" cy="354.6" r="2.75"/>
<circle cx="389.4" cy="353.9" r="2.75"/>
<circle cx="397.4" cy="358.8" r="2.75"/>
<circle cx="382.3" cy="362.7" r="2.75"/>
<circle cx="389.8" cy="362.7" r="2.75"/>
<circle cx="377.4" cy="365.8" r="2.75"/>
<circle cx="393.6" cy="367.2" r="2.75"/>
<circle cx="385.9" cy="372.2" r="2.75"/>
</g>
<g fill="#3079c8">
<circle cx="437.8" cy="76.5" r="2.75"/>
<circle cx="440.81" cy="78.01" r="2.75"/>
<circle cx="443.81" cy="78.42" r="2.75"/>
<circle cx="446.82" cy="80.1" r="2.75"/>
<circle cx="449.83" cy="80.34" r="2.75"/>
<circle cx="452.83" cy="81.95" r="2.75"/>
<circle cx="455.84" cy="81.92" r="2.75"/>
<circle cx="458.85" cy="83.22" r="2.75"/>
<circle cx="461.85" cy="82.29" r="2.75"/>
<circle cx="464.86" cy="82.23" r="2.75"/>
<circle cx="467.87" cy="80.63" r="2.75"/>
<circle cx="470.87" cy="80.4" r="2.75"/>
<circle cx="473.88" cy="78.73" r="2.75"/>
<circle cx="476.89" cy="78.52" r="2.75"/>
<circle cx="479.89" cy="76.99" r="2.75"/>
<circle cx="482.9" cy="76.5" r="2.75"/>
<circle cx="438.4" cy="85.0" r="2.75"/>
<circle cx="441.32" cy="86.18" r="2.75"/>
<circle cx="444.24" cy="86.43" r="2.75"/>
<circle cx="447.16" cy="88.25" r="2.75"/>
<circle cx="450.08" cy="88.66" r="2.75"/>
<circle cx="453.0" cy="90.46" r="2.75"/>
<circle cx="455.92" cy="90.66" r="2.75"/>
<circle cx="458.84" cy="92.21" r="2.75"/>
<circle cx="461.76" cy="91.21" r="2.75"/>
<circle cx="464.68" cy="90.84" r="2.75"/>
<circle cx="467.6" cy="89.03" r="2.75"/>
<circle cx="470.52" cy="88.6" r="2.75"/>
<circle cx="473.44" cy="86.8" r="2.75"/>
<circle cx="476.36" cy="86.46" r="2.75"/>
<circle cx="479.28" cy="84.9" r="2.75"/>
<circle cx="482.2" cy="84.4" r="2.75"/>
<circle cx="438.4" cy="92.9" r="2.75"/>
<circle cx="441.32" cy="94.08" r="2.75"/>
<circle cx="444.24" cy="94.3" r="2.75"/>
<circle cx="447.16" cy="96.07" r="2.75"/>
<circle cx="450.08" cy="96.46" r="2.75"/>
<circle cx="453.0" cy="98.26" r="2.75"/>
<circle cx="455.92" cy="98.23" r="2.75"/>
<circle cx="458.84" cy="99.52" r="2.75"/>
<circle cx="461.76" cy="98.61" r="2.75"/>
<circle cx="464.68" cy="98.58" r="2.75"/>
<circle cx="467.6" cy="96.83" r="2.75"/>
<circle cx="470.52" cy="96.41" r="2.75"/>
<circle cx="473.44" cy="94.66" r="2.75"/>
<circle cx="476.36" cy="94.48" r="2.75"/>
<circle cx="479.28" cy="93.46" r="2.75"/>
<circle cx="482.2" cy="93.5" r="2.75"/>
<circle cx="439.1" cy="100.7" r="2.75"/>
<circle cx="442.14" cy="102.06" r="2.75"/>
<circle cx="445.17" cy="102.19" r="2.75"/>
<circle cx="448.21" cy="103.65" r="2.75"/>
<circle cx="451.24" cy="104.1" r="2.75"/>
<circle cx="454.28" cy="105.89" r="2.75"/>
<circle cx="457.31" cy="106.12" r="2.75"/>
<circle cx="460.35" cy="107.52" r="2.75"/>
<circle cx="463.39" cy="105.65" r="2.75"/>
<circle cx="466.42" cy="105.18" r="2.75"/>
<circle cx="469.46" cy="103.31" r="2.75"/>
<circle cx="472.49" cy="103.14" r="2.75"/>
<circle cx="475.53" cy="101.69" r="2.75"/>
<circle cx="478.56" cy="101.72" r="2.75"/>
<circle cx="481.6" cy="100.7" r="2.75"/>
<circle cx="437.8" cy="109.6" r="2.75"/>
<circle cx="444.3" cy="109.6" r="2.75"/>
<circle cx="451.5" cy="112.2" r="2.75"/>
<circle cx="470.4" cy="110.2" r="2.75"/>
<circle cx="476.3" cy="110" r="2.75"/>
<circle cx="482.2" cy="109.6" r="2.75"/>
<circle cx="457.4" cy="117.4" r="2.75"/>
<circle cx="463.6" cy="116.5" r="2.75"/>
<circle cx="438" cy="118.3" r="2.75"/>
<circle cx="444.3" cy="120" r="2.75"/>
<circle cx="482" cy="118.3" r="2.75"/>
<circle cx="451.1" cy="124" r="2.75"/>
<circle cx="457.4" cy="125.3" r="2.75"/>
<circle cx="463.6" cy="125.9" r="2.75"/>
<circle cx="469.8" cy="124.6" r="2.75"/>
<circle cx="475.7" cy="124" r="2.75"/>
<circle cx="453.2" cy="128.5" r="2.75"/>
<circle cx="467.8" cy="132.2" r="2.75"/>
<circle cx="460.4" cy="134.8" r="2.75"/>
<circle cx="448.5" cy="138.3" r="2.75"/>
<circle cx="472" cy="141.3" r="2.75"/>
<circle cx="456.3" cy="144.4" r="2.75"/>
<circle cx="463.6" cy="146" r="2.75"/>
<circle cx="448.5" cy="161.6" r="2.75"/>
<circle cx="456.3" cy="163.9" r="2.75"/>
<circle cx="463.9" cy="162.9" r="2.75"/>
<circle cx="472" cy="159" r="2.75"/>
<circle cx="452.5" cy="172.4" r="2.75"/>
<circle cx="460.2" cy="173.7" r="2.75"/>
<circle cx="468.1" cy="171.6" r="2.75"/>
<circle cx="448.5" cy="187.2" r="2.75"/>
<circle cx="456.3" cy="189.8" r="2.75"/>
<circle cx="463.9" cy="187.4" r="2.75"/>
<circle cx="471.8" cy="186.9" r="2.75"/>
<circle cx="440.6" cy="197.6" r="2.75"/>
<circle cx="448.5" cy="197.6" r="2.75"/>
<circle cx="463.6" cy="197.6" r="2.75"/>
<circle cx="475.7" cy="199.6" r="2.75"/>
<circle cx="456.3" cy="203.5" r="2.75"/>
<circle cx="468.1" cy="204.1" r="2.75"/>
<circle cx="472" cy="206.5" r="2.75"/>
<circle cx="445" cy="207.4" r="2.75"/>
<circle cx="463.9" cy="209.6" r="2.75"/>
<circle cx="448.5" cy="214.9" r="2.75"/>
<circle cx="452.8" cy="213.6" r="2.75"/>
<circle cx="456.3" cy="217.9" r="2.75"/>
<circle cx="471.8" cy="216.2" r="2.75"/>
<circle cx="463.9" cy="222.2" r="2.75"/>
<circle cx="460.2" cy="231.1" r="2.75"/>
<circle cx="448.5" cy="234.3" r="2.75"/>
<circle cx="456.5" cy="235.6" r="2.75"/>
<circle cx="476.1" cy="234.6" r="2.75"/>
<circle cx="468.1" cy="239.6" r="2.75"/>
<circle cx="464.8" cy="244.5" r="2.75"/>
<circle cx="456.7" cy="248.3" r="2.75"/>
<circle cx="452.1" cy="254.6" r="2.75"/>
<circle cx="468.7" cy="253.7" r="2.75"/>
<circle cx="460.2" cy="257.5" r="2.75"/>
<circle cx="464.8" cy="258.8" r="2.75"/>
<circle cx="456.3" cy="266.5" r="2.75"/>
<circle cx="460.4" cy="274.3" r="2.75"/>
<circle cx="444.6" cy="281.9" r="2.75"/>
<circle cx="472" cy="280.9" r="2.75"/>
<circle cx="464.3" cy="285.5" r="2.75"/>
<circle cx="452.5" cy="287.2" r="2.75"/>
<circle cx="456.7" cy="290" r="2.75"/>
<circle cx="468.7" cy="295.3" r="2.75"/>
<circle cx="464.2" cy="299.9" r="2.75"/>
<circle cx="456.7" cy="303.6" r="2.75"/>
<circle cx="452.5" cy="313.6" r="2.75"/>
<circle cx="460.4" cy="315.3" r="2.75"/>
<circle cx="468.5" cy="312.3" r="2.75"/>
<circle cx="460.4" cy="333.6" r="2.75"/>
<circle cx="452.8" cy="340.5" r="2.75"/>
<circle cx="468.1" cy="339.3" r="2.75"/>
<circle cx="460.4" cy="344.6" r="2.75"/>
<circle cx="456.7" cy="372.1" r="2.75"/>
<circle cx="464.6" cy="372.1" r="2.75"/>
</g>
<g stroke="#0a5f0a" stroke-width="1.8" stroke-dasharray="1.8 1.5">
<line x1="36.6" y1="221.9" x2="506.6" y2="221.9"/>
<line x1="36.6" y1="281.9" x2="506.6" y2="281.9"/>
<line x1="273" y1="62.2" x2="273" y2="368"/>
</g>
<text x="41.8" y="205.7" class="it" font-size="9.9" textLength="108.6" lengthAdjust="spacingAndGlyphs" fill="#137513" style="fill:#137513;stroke:#137513;stroke-width:0.25">Clinically relevant inhibition</text>
<text x="42.0" y="269.2" class="it" font-size="9.9" textLength="35.0" lengthAdjust="spacingAndGlyphs" fill="#137513" style="fill:#137513;stroke:#137513;stroke-width:0.25">Positivity</text>
</svg>
</body></html>
